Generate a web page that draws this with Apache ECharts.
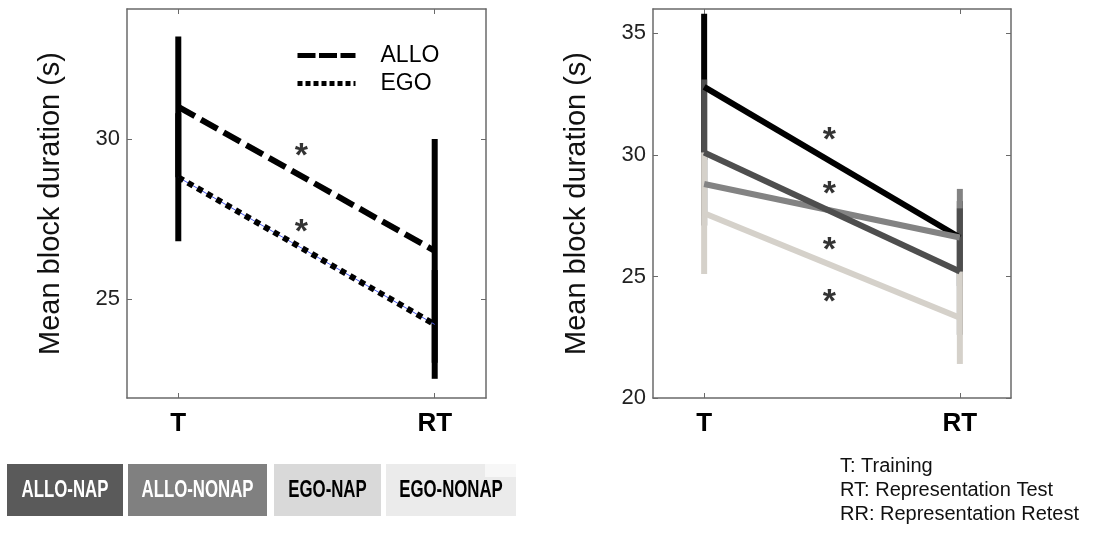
<!DOCTYPE html>
<html>
<head>
<meta charset="utf-8">
<script src="https://cdn.jsdelivr.net/npm/echarts@6/dist/echarts.min.js"></script>
<style>
  html, body { margin: 0; padding: 0; background: #fff; }
  #main { width: 1115px; height: 533px; }
</style>
</head>
<body>
<div id="main"></div>
<script>
// stages on the x axis
var stages = ['T', 'RT'];
var stageX = [0, 1];

// left panel: ALLO vs EGO
var leftNames = ['ALLO', 'EGO'];
var alloMean = [31.0, 26.5];
var alloErr = [2.2, 3.5];
var egoMean = [28.8, 24.2];
var egoErr = [2.0, 1.7];
var leftStarX = 0.48;
var leftStarY = [29.66, 27.3];

// right panel: four groups
var groupNames = ['ALLO-NAP', 'ALLO-NONAP', 'EGO-NAP', 'EGO-NONAP'];
var groupMeanT = [32.8, 28.8, 30.1, 27.6];
var groupMeanRT = [26.6, 26.6, 25.2, 23.3];
var groupErrT = [3.0, 1.3, 3.0, 2.5];
var groupErrRT = [1.5, 2.0, 2.6, 1.9];
var rightStarX = 0.49;
var rightStarY = [30.89, 28.67, 26.37, 24.23];

var lineColors = ['#000000', '#838383', '#4e4e4e', '#d5d1ca'];
var boxColors = ['#5a5a5a', '#808080', '#d9d9d9', '#ebebeb'];
var boxText = ['#ffffff', '#ffffff', '#000000', '#000000'];
var notes = ['T: Training', 'RT: Representation Test', 'RR: Representation Retest'];

var font = 'Liberation Sans, Arial, sans-serif';
var axisGray = '#6a6a6a';

function pairs(vals) {
  return stageX.map(function (x, i) { return [x, vals[i]]; });
}
function bars(means, errs) {
  return stageX.map(function (x, i) { return [x, means[i] - errs[i], means[i] + errs[i]]; });
}
function errSeries(idx, means, errs, color) {
  return {
    type: 'custom',
    xAxisIndex: idx * 2, yAxisIndex: idx * 2,
    data: bars(means, errs),
    encode: { x: 0, y: [1, 2] },
    silent: true,
    renderItem: function (params, api) {
      var a = api.coord([api.value(0), api.value(1)]);
      var b = api.coord([api.value(0), api.value(2)]);
      return {
        type: 'line',
        shape: { x1: a[0], y1: a[1], x2: b[0], y2: b[1] },
        style: { stroke: color, lineWidth: 6, lineCap: 'butt' }
      };
    }
  };
}
function lineSeries(idx, name, means, color, type, width) {
  return {
    type: 'line', name: name,
    xAxisIndex: idx * 2, yAxisIndex: idx * 2,
    data: pairs(means),
    symbol: 'none', silent: true,
    lineStyle: { color: color, width: width, type: type, cap: 'butt' },
    itemStyle: { color: color }
  };
}
function starSeries(idx, x, ys) {
  return {
    type: 'scatter',
    xAxisIndex: idx * 2, yAxisIndex: idx * 2,
    data: ys.map(function (y) { return [x, y]; }),
    symbolSize: 0,
    itemStyle: { color: '#000' },
    silent: true,
    label: {
      show: true, position: 'inside', formatter: '*',
      fontSize: 34, fontWeight: 'bold', color: '#000', fontFamily: font,
      textBorderWidth: 0, offset: [0, 7]
    },
    z: 5
  };
}

function xAxes(gi) {
  var base = {
    gridIndex: gi, type: 'value', min: -0.2, max: 1.2,
    splitLine: { show: false },
    axisLine: { show: true, onZero: false, lineStyle: { color: axisGray, width: 1.5 } },
    axisTick: { show: true, inside: true, length: 5, customValues: stageX, lineStyle: { color: axisGray } }
  };
  var bottom = Object.assign({}, base, {
    position: 'bottom',
    axisLabel: {
      customValues: stageX, margin: 13,
      formatter: function (v) { return stages[stageX.indexOf(v)]; },
      fontSize: 26, fontWeight: 'bold', color: '#000', fontFamily: font
    }
  });
  var top = Object.assign({}, base, { position: 'top', axisLabel: { show: false } });
  return [bottom, top];
}
function yAxes(gi, min, max, ticks) {
  var base = {
    gridIndex: gi, type: 'value', min: min, max: max,
    splitLine: { show: false },
    axisLine: { show: true, onZero: false, lineStyle: { color: axisGray, width: 1.5 } },
    axisTick: { show: true, inside: true, length: 5, customValues: ticks, lineStyle: { color: axisGray } }
  };
  var left = Object.assign({}, base, {
    position: 'left',
    name: 'Mean block duration (s)', nameLocation: 'middle', nameGap: 62,
    nameTextStyle: { fontSize: 29, color: '#111', fontFamily: font },
    axisLabel: { customValues: ticks, margin: 7, fontSize: 22, color: '#222', fontFamily: font }
  });
  var right = Object.assign({}, base, { position: 'right', axisLabel: { show: false } });
  return [left, right];
}

var series = [];
// left panel
series.push(errSeries(0, alloMean, alloErr, '#000'));
series.push(errSeries(0, egoMean, egoErr, '#000'));
series.push(lineSeries(0, leftNames[0], alloMean, '#000', [19, 7], 6));
series.push(lineSeries(0, 'ego-thin', egoMean, '#4b5cf0', 'solid', 1));
series.push(lineSeries(0, leftNames[1], egoMean, '#000', [6, 5], 6));
series.push(starSeries(0, leftStarX, leftStarY));
// right panel
for (var i = 0; i < groupNames.length; i++) {
  series.push(lineSeries(1, groupNames[i], [groupMeanT[i], groupMeanRT[i]], lineColors[i], 'solid', 6));
  series.push(errSeries(1, [groupMeanT[i], groupMeanRT[i]], [groupErrT[i], groupErrRT[i]], lineColors[i]));
}
series.push(starSeries(1, rightStarX, rightStarY));

// legend boxes and notes along the bottom
var graphics = [];
var boxX = [7, 128, 274, 386];
var boxW = [116, 139, 107, 130];
for (var k = 0; k < groupNames.length; k++) {
  graphics.push({
    type: 'rect', left: boxX[k], top: 464,
    shape: { width: boxW[k], height: 52 },
    style: { fill: boxColors[k] }
  });
  graphics.push({
    type: 'text', x: boxX[k] + boxW[k] / 2, y: 490, scaleX: 0.7,
    style: {
      text: groupNames[k], fill: boxText[k],
      font: 'bold 24px ' + font,
      align: 'center', verticalAlign: 'middle'
    }
  });
}
graphics.push({
  type: 'rect', left: 485, top: 464, shape: { width: 31, height: 13 },
  style: { fill: '#f7f7f7' }
});
var noteY = [466, 490, 514];
for (var n = 0; n < notes.length; n++) {
  graphics.push({
    type: 'text', x: 840, y: noteY[n],
    style: {
      text: notes[n], fill: '#111', font: '20px ' + font,
      align: 'left', verticalAlign: 'middle'
    }
  });
}

var chart = echarts.init(document.getElementById('main'));
chart.setOption({
  animation: false,
  backgroundColor: '#fff',
  grid: [
    { left: 127, top: 9, width: 359, height: 389 },
    { left: 653, top: 9, width: 358, height: 389 }
  ],
  xAxis: xAxes(0).concat(xAxes(1)),
  yAxis: yAxes(0, 21.9, 34.06, [25, 30]).concat(yAxes(1, 20, 36, [20, 25, 30, 35])),
  legend: {
    data: [
      { name: leftNames[0], lineStyle: { type: [18, 3.5] } },
      { name: leftNames[1], lineStyle: { type: [5, 3] } }
    ],
    orient: 'vertical',
    left: 290, top: 39,
    itemWidth: 58, itemHeight: 23, itemGap: 5,
    itemStyle: { opacity: 0 },
    lineStyle: { width: 5 },
    textStyle: { fontSize: 23, color: '#000', fontFamily: font, padding: [0, 0, 0, 20], lineHeight: 23 },
    selectedMode: false
  },
  graphic: graphics,
  series: series
});
</script>
</body>
</html>
